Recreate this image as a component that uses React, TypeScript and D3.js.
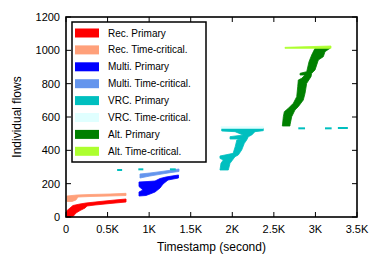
import * as React from "react";
import * as d3 from "d3";

// outlines of each flow group, [timestamp (s), flow index]
const recPrimary = [
  [6, 36], [48, 54], [84, 69], [168, 78], [241, 84], [409, 93], [589, 102], [722, 108],
  [722, 90], [529, 81], [349, 72], [253, 66], [230, 54], [170, 39], [120, 24], [90, 6], [60, 0], [6, 0],
];
const recTimeCritical = [
  [12, 126], [72, 129], [132, 132], [289, 135], [529, 138], [722, 142],
  [722, 129], [529, 126], [289, 123], [144, 120], [120, 102], [72, 93], [12, 93],
];
const multiPrimary = [
  [878, 210], [986, 213], [1071, 216], [1131, 231], [1203, 240], [1275, 246], [1353, 252],
  [1353, 234], [1227, 222], [1167, 198], [1131, 174], [1071, 150], [1010, 138],
  [962, 129], [878, 126], [878, 150], [926, 162], [878, 183],
];
const multiTimeCritical = [
  [890, 258], [1010, 264], [1131, 272], [1251, 280], [1359, 288],
  [1359, 273], [1251, 266], [1131, 256], [1010, 246], [890, 234],
];
const vrcPrimary = [
  [1873, 532], [2373, 532], [2373, 518], [2273, 512], [2234, 492], [2193, 482], [2173, 462],
  [2145, 442], [2113, 402], [2072, 372], [2033, 362], [1973, 322], [1952, 282],
  [1852, 282], [1864, 322], [1892, 342], [1852, 352], [1852, 366], [1912, 372], [2010, 382],
  [2035, 422], [2055, 462], [2100, 468], [1973, 468], [1973, 482], [2130, 492], [2033, 512], [1873, 516],
];
const vrcTimeCritical = [[1864, 542], [2373, 542], [2373, 532], [1864, 532]];
const altPrimary = [
  [2995, 1012], [3175, 1012], [3115, 992], [3095, 962], [3035, 942], [2995, 882], [2955, 862],
  [2947, 842], [2895, 802], [2875, 742], [2854, 702], [2794, 662], [2754, 642], [2715, 602],
  [2694, 552], [2694, 546], [2602, 546], [2614, 602], [2626, 632], [2674, 652], [2734, 682],
  [2775, 722], [2787, 782], [2794, 822], [2835, 832], [2875, 852], [2815, 852], [2815, 862],
  [2895, 872], [2923, 932], [2955, 972],
];
const altTimeCritical = [[2634, 1018], [3187, 1026], [3187, 1012], [2634, 1012]];

// short VRC flows: [start, end, flow]
const vrcDashes = [
  [615, 675, 282], [870, 930, 286], [1250, 1320, 286],
  [2794, 2875, 532], [3115, 3195, 532], [3270, 3390, 534],
];

const xTicks = [0, 500, 1000, 1500, 2000, 2500, 3000, 3500];
const xTickLabels = ["0", "0.5K", "1K", "1.5K", "2K", "2.5K", "3K", "3.5K"];
const yTicks = [0, 200, 400, 600, 800, 1000, 1200];

const series = [
  { name: "Rec. Primary", color: "#ff0000", shape: recPrimary },
  { name: "Rec. Time-critical.", color: "#ffa07a", shape: recTimeCritical },
  { name: "Multi. Primary", color: "#0000ff", shape: multiPrimary },
  { name: "Multi. Time-critical.", color: "#6495ed", shape: multiTimeCritical },
  { name: "VRC. Primary", color: "#00bfbf", shape: vrcPrimary },
  { name: "VRC. Time-critical.", color: "#e0ffff", shape: vrcTimeCritical },
  { name: "Alt. Primary", color: "#008000", shape: altPrimary },
  { name: "Alt. Time-critical.", color: "#adff2f", shape: altTimeCritical },
];

const font = "'Liberation Sans', Arial, sans-serif";

export default function App() {
  const left = 66, right = 357, top = 17, bottom = 217;
  const x = d3.scaleLinear().domain([0, 3500]).range([left, right]);
  const y = d3.scaleLinear().domain([0, 1200]).range([bottom, top]);
  const outline = d3.line<number[]>()
    .x(d => x(d[0]))
    .y(d => y(d[1]))
    .curve(d3.curveLinearClosed);

  return (
    <svg width={382} height={269} style={{ position: "absolute", left: 0, top: 0, background: "#fff" }}
      fontFamily={font}>
      {/* flows */}
      <g>
        {series.map(s => (
          <path key={s.name} d={outline(s.shape as any) || ""} fill={s.color} stroke={s.color} strokeWidth={0.8} strokeLinejoin="round" />
        ))}
        {vrcDashes.map((d, i) => (
          <line key={i} x1={x(d[0])} x2={x(d[1])} y1={y(d[2])} y2={y(d[2])} stroke="#00bfbf" strokeWidth={2} />
        ))}
      </g>

      {/* ticks, inward on all four sides */}
      <g stroke="#000" strokeWidth={1}>
        {xTicks.map(t => (
          <g key={t}>
            <line x1={x(t)} x2={x(t)} y1={bottom} y2={bottom - 5} />
            <line x1={x(t)} x2={x(t)} y1={top} y2={top + 5} />
          </g>
        ))}
        {yTicks.map(t => (
          <g key={t}>
            <line x1={left} x2={left + 5} y1={y(t)} y2={y(t)} />
            <line x1={right} x2={right - 5} y1={y(t)} y2={y(t)} />
          </g>
        ))}
      </g>
      <rect x={left} y={top} width={right - left} height={bottom - top} fill="none" stroke="#000" strokeWidth={1.6} />

      {/* tick labels */}
      <g fontSize={11} fill="#000">
        {xTicks.map((t, i) => (
          <text key={t} x={x(t)} y={bottom + 16} textAnchor="middle">{xTickLabels[i]}</text>
        ))}
        {yTicks.map(t => (
          <text key={t} x={left - 6} y={y(t) + 4} textAnchor="end">{t}</text>
        ))}
      </g>
      <text x={(left + right) / 2} y={251} textAnchor="middle" fontSize={12}>Timestamp (second)</text>
      <text transform={`translate(21,${(top + bottom) / 2}) rotate(-90)`} textAnchor="middle" fontSize={12}>Individual flows</text>

      {/* legend */}
      <rect x={72} y={22} width={134} height={140} fill="#fff" stroke="#000" strokeWidth={1.5} />
      {series.map((s, i) => {
        const cy = 33 + i * 16.9;
        return (
          <g key={s.name}>
            <rect x={75} y={cy - 4.5} width={24} height={9} fill={s.color} />
            <text x={108} y={cy + 3.5} fontSize={10}>{s.name}</text>
          </g>
        );
      })}
    </svg>
  );
}
